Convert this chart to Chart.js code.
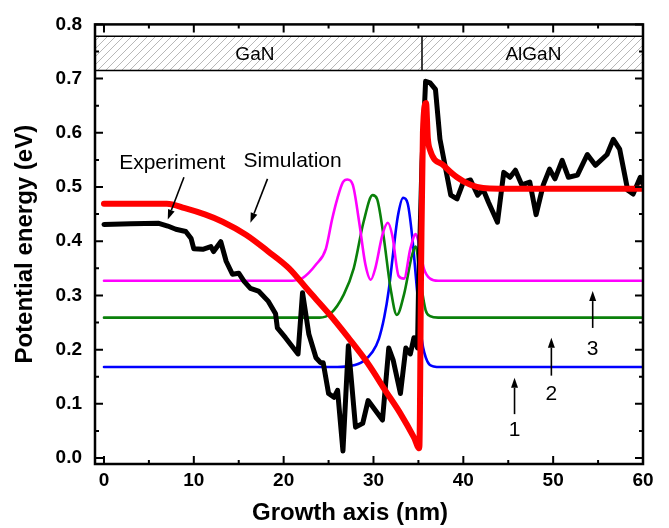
<!DOCTYPE html>
<html>
<head>
<meta charset="utf-8">
<script src="https://cdn.jsdelivr.net/npm/chart.js@4.4.0/dist/chart.umd.min.js"></script>
<style>
  html, body { margin: 0; padding: 0; background: #fff; }
  canvas { display: block; }
</style>
</head>
<body>
<canvas id="chart" width="669" height="528"></canvas>
<script>
// tick values
const xTicks = [0, 10, 20, 30, 40, 50, 60];
const xMinorTicks = [5, 15, 25, 35, 45, 55];
const yTicks = [0, 0.1, 0.2, 0.3, 0.4, 0.5, 0.6, 0.7, 0.8];
const yMinorTicks = [0.05, 0.15, 0.25, 0.35, 0.45, 0.55, 0.65, 0.75];

// experiment (black)
const expX = [0, 3, 6.1, 7.1, 8.0, 9.1, 9.7, 10.0, 11.0, 11.9, 12.2, 13.0, 13.6, 14.3, 15.0, 15.6, 16.3, 17.2, 18.3, 19.1, 19.3, 20.2, 21.6, 22.1, 22.8, 23.6, 24.1, 24.4, 25.0, 25.6, 26.0, 26.6, 27.2, 28.0, 28.8, 29.4, 30.2, 31.0, 31.7, 32.2, 33.0, 33.6, 34.1, 34.5, 34.9, 35.0, 35.4, 35.8, 36.3, 36.9, 37.4, 38.6, 39.3, 40.0, 40.8, 41.6, 42.2, 42.8, 43.8, 44.5, 45.2, 45.8, 46.5, 47.4, 48.1, 48.9, 49.6, 50.2, 51.0, 51.7, 52.7, 53.8, 54.7, 56.0, 56.7, 57.4, 58.3, 58.9, 59.7, 60];
const expY = [0.431, 0.432, 0.433, 0.428, 0.422, 0.418, 0.405, 0.386, 0.385, 0.390, 0.381, 0.399, 0.363, 0.339, 0.341, 0.326, 0.313, 0.308, 0.289, 0.266, 0.240, 0.222, 0.192, 0.305, 0.229, 0.185, 0.176, 0.176, 0.119, 0.112, 0.125, 0.013, 0.207, 0.057, 0.064, 0.106, 0.088, 0.070, 0.203, 0.180, 0.119, 0.203, 0.192, 0.222, 0.203, 0.302, 0.546, 0.695, 0.692, 0.680, 0.588, 0.485, 0.478, 0.509, 0.513, 0.485, 0.496, 0.472, 0.435, 0.527, 0.518, 0.531, 0.504, 0.509, 0.449, 0.504, 0.533, 0.515, 0.549, 0.518, 0.522, 0.560, 0.540, 0.560, 0.588, 0.570, 0.494, 0.487, 0.518, 0.505];

// simulation (red)
const simX = [0, 7, 9, 11.3, 13.2, 15.8, 18.3, 20.6, 22.8, 25, 27.2, 29.4, 31.3, 33, 34.5, 35.1, 35.3, 35.5, 35.85, 36.05, 36.3, 37.8, 39.3, 40.8, 42.2, 44, 60];
const simY = [0.469, 0.469, 0.461, 0.449, 0.436, 0.412, 0.381, 0.350, 0.308, 0.267, 0.222, 0.174, 0.125, 0.082, 0.038, 0.018, 0.35, 0.60, 0.655, 0.59, 0.568, 0.540, 0.518, 0.504, 0.498, 0.497, 0.497];

// state 1 (blue)
const s1X = [0, 26, 27.5, 28.8, 29.9, 30.6, 31.2, 31.7, 32.2, 32.7, 33.3, 33.8, 34.3, 34.9, 35.4, 36.0, 36.7, 37.5, 60];
const s1Y = [0.168, 0.168, 0.170, 0.178, 0.196, 0.22, 0.26, 0.31, 0.38, 0.445, 0.48, 0.47, 0.41, 0.30, 0.216, 0.178, 0.169, 0.168, 0.168];

// state 2 (green)
const s2X = [0, 24.0, 25.2, 26.7, 27.8, 28.9, 29.9, 30.4, 31.1, 31.9, 32.6, 33.4, 34.3, 34.7, 35.2, 35.8, 36.3, 37.2, 60];
const s2Y = [0.259, 0.259, 0.266, 0.302, 0.35, 0.436, 0.485, 0.478, 0.412, 0.313, 0.264, 0.302, 0.375, 0.39, 0.331, 0.273, 0.262, 0.259, 0.259];

// state 3 (magenta)
const s3X = [0, 21, 22.1, 23.6, 24.7, 25.4, 26.0, 26.6, 27.1, 27.7, 28.4, 29.1, 29.7, 30.2, 31.0, 31.6, 32.1, 32.8, 33.4, 34.1, 34.7, 35.0, 35.6, 36.3, 37.2, 60];
const s3Y = [0.327, 0.327, 0.332, 0.357, 0.386, 0.441, 0.48, 0.509, 0.514, 0.504, 0.436, 0.357, 0.329, 0.35, 0.412, 0.434, 0.41, 0.336, 0.331, 0.386, 0.413, 0.40, 0.35, 0.331, 0.327, 0.327];

const pts = (xs, ys) => xs.map((x, i) => ({x: x, y: ys[i]}));

const FONT = '"Liberation Sans", Arial, sans-serif';

// layer band, labels and arrows (data coordinates)
const band = {top: 0.778, bottom: 0.715, split: 35.4};
const bandLabels = [{text: 'GaN', x: 16.8}, {text: 'AlGaN', x: 47.8}];
const notes = [
    {text: 'Experiment', x: 7.6, y: 0.544},
    {text: 'Simulation', x: 21.0, y: 0.548},
    {text: '1', x: 45.7, y: 0.051},
    {text: '2', x: 49.8, y: 0.117},
    {text: '3', x: 54.4, y: 0.200}
];
const arrows = [
    {from: [8.9, 0.518], to: [7.1, 0.44]},
    {from: [18.2, 0.515], to: [16.3, 0.434]},
    {from: [45.7, 0.081], to: [45.7, 0.148]},
    {from: [49.8, 0.152], to: [49.8, 0.222]},
    {from: [54.4, 0.240], to: [54.4, 0.308]}
];
const xTitle = 'Growth axis (nm)';

function hatchPattern(ctx) {
    const c = document.createElement('canvas');
    c.width = 8; c.height = 8;
    const g = c.getContext('2d');
    g.strokeStyle = '#b8b8b8';
    g.lineWidth = 1;
    g.beginPath();
    g.moveTo(0, 8); g.lineTo(8, 0);
    g.moveTo(-1, 1); g.lineTo(1, -1);
    g.moveTo(7, 9); g.lineTo(9, 7);
    g.stroke();
    return ctx.createPattern(c, 'repeat');
}

const decor = {
    id: 'decor',
    beforeDatasetsDraw(chart) {
        const {ctx, chartArea: a, scales: {x, y}} = chart;
        const yt = y.getPixelForValue(band.top);
        const yb = y.getPixelForValue(band.bottom);
        const xs = x.getPixelForValue(band.split);
        ctx.save();
        ctx.fillStyle = hatchPattern(ctx);
        ctx.fillRect(a.left, yt, a.right - a.left, yb - yt);
        ctx.strokeStyle = '#000';
        ctx.lineWidth = 1.5;
        ctx.beginPath();
        ctx.moveTo(a.left, yt); ctx.lineTo(a.right, yt);
        ctx.moveTo(a.left, yb); ctx.lineTo(a.right, yb);
        ctx.moveTo(xs, yt); ctx.lineTo(xs, yb);
        ctx.stroke();
        ctx.fillStyle = '#000';
        ctx.font = '19px ' + FONT;
        ctx.textAlign = 'center';
        ctx.textBaseline = 'middle';
        const ym = y.getPixelForValue((band.top + band.bottom) / 2);
        bandLabels.forEach(l => ctx.fillText(l.text, x.getPixelForValue(l.x), ym + 1));
        ctx.restore();
    },
    afterDatasetsDraw(chart) {
        const {ctx, chartArea: a, scales: {x, y}} = chart;
        ctx.save();
        // frame
        ctx.strokeStyle = '#000';
        ctx.lineWidth = 2.5;
        ctx.strokeRect(a.left, a.top, a.right - a.left, a.bottom - a.top);
        // inward ticks on all four sides
        ctx.lineWidth = 2;
        ctx.beginPath();
        const tickX = (v, len) => {
            const px = x.getPixelForValue(v);
            ctx.moveTo(px, a.bottom); ctx.lineTo(px, a.bottom - len);
            ctx.moveTo(px, a.top); ctx.lineTo(px, a.top + len);
        };
        const tickY = (v, len) => {
            const py = y.getPixelForValue(v);
            ctx.moveTo(a.left, py); ctx.lineTo(a.left + len, py);
            ctx.moveTo(a.right, py); ctx.lineTo(a.right - len, py);
        };
        xTicks.forEach(v => tickX(v, 8));
        xMinorTicks.forEach(v => tickX(v, 4));
        yTicks.forEach(v => tickY(v, 8));
        yMinorTicks.forEach(v => tickY(v, 4));
        ctx.stroke();

        // text notes
        ctx.fillStyle = '#000';
        ctx.font = '21px ' + FONT;
        ctx.textAlign = 'center';
        ctx.textBaseline = 'middle';
        notes.forEach(n => ctx.fillText(n.text, x.getPixelForValue(n.x), y.getPixelForValue(n.y)));

        // arrows
        ctx.lineWidth = 1.6;
        arrows.forEach(ar => {
            const x0 = x.getPixelForValue(ar.from[0]), y0 = y.getPixelForValue(ar.from[1]);
            const x1 = x.getPixelForValue(ar.to[0]), y1 = y.getPixelForValue(ar.to[1]);
            const ang = Math.atan2(y1 - y0, x1 - x0);
            const hl = 10, hw = 3.5;
            const bx = x1 - hl * Math.cos(ang), by = y1 - hl * Math.sin(ang);
            ctx.beginPath();
            ctx.moveTo(x0, y0); ctx.lineTo(bx, by);
            ctx.stroke();
            ctx.beginPath();
            ctx.moveTo(x1, y1);
            ctx.lineTo(bx + hw * Math.sin(ang), by - hw * Math.cos(ang));
            ctx.lineTo(bx - hw * Math.sin(ang), by + hw * Math.cos(ang));
            ctx.closePath();
            ctx.fill();
        });

        // x axis title, sits a little left of centre in the original
        ctx.font = 'bold 24px ' + FONT;
        ctx.textBaseline = 'middle';
        ctx.fillText(xTitle, a.left + 255, chart.height - 15);
        ctx.restore();
    }
};

const line = (data, color, width, smooth) => ({
    data: data,
    borderColor: color,
    borderWidth: width,
    pointRadius: 0,
    fill: false,
    borderJoinStyle: 'round',
    borderCapStyle: 'round',
    cubicInterpolationMode: smooth ? 'monotone' : 'default',
    tension: 0
});

new Chart(document.getElementById('chart'), {
    type: 'line',
    data: {
        datasets: [
            line(pts(simX, simY), '#ff0000', 6, true),
            line(pts(expX, expY), '#000000', 5, false),
            line(pts(s3X, s3Y), '#ff00ff', 2.6, true),
            line(pts(s2X, s2Y), '#0a800a', 2.6, true),
            line(pts(s1X, s1Y), '#0000ff', 2.6, true)
        ]
    },
    options: {
        responsive: false,
        animation: false,
        devicePixelRatio: 1,
        layout: {padding: {left: 0, right: 26, top: 21, bottom: 0}},
        plugins: {legend: {display: false}, tooltip: {enabled: false}},
        scales: {
            x: {
                type: 'linear',
                min: -1,
                max: 60,
                grid: {display: false, drawTicks: false},
                border: {display: false},
                afterBuildTicks: s => { s.ticks = xTicks.map(v => ({value: v})); },
                afterFit: s => { s.height = 64; },
                ticks: {
                    autoSkip: false,
                    maxRotation: 0,
                    padding: 5,
                    color: '#000',
                    font: {family: FONT, size: 19, weight: 'bold'},
                    callback: v => String(v)
                },
                title: {display: false}
            },
            y: {
                type: 'linear',
                min: -0.011,
                max: 0.8,
                grid: {display: false, drawTicks: false},
                border: {display: false},
                afterBuildTicks: s => { s.ticks = yTicks.map(v => ({value: v})); },
                afterFit: s => { s.width = 95; },
                ticks: {
                    autoSkip: false,
                    padding: 13,
                    color: '#000',
                    font: {family: FONT, size: 19, weight: 'bold'},
                    callback: v => v.toFixed(1)
                },
                title: {
                    display: true,
                    text: 'Potential energy (eV)',
                    color: '#000',
                    font: {family: FONT, size: 24, weight: 'bold'},
                    padding: {top: 11, bottom: 0}
                }
            }
        }
    },
    plugins: [decor]
});
</script>
</body>
</html>
